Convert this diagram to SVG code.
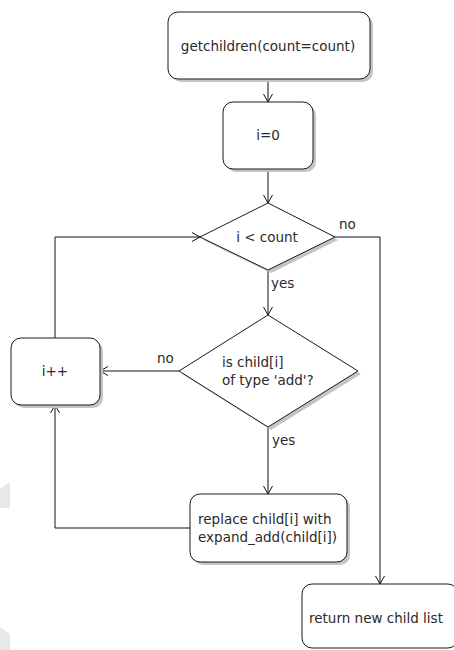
<svg xmlns="http://www.w3.org/2000/svg" width="454" height="650" viewBox="0 0 454 650">
  <defs>
    <style>
      .box { fill: #ffffff; stroke: #1a1a1a; stroke-width: 1; }
      .shadow { fill: #c4c4c4; stroke: none; }
      .txt { font-family: "DejaVu Sans", "Liberation Sans", sans-serif; font-size: 13.5px; fill: #2a2a2a; }
      .mid { text-anchor: middle; }
      .edge { fill: none; stroke: #111111; stroke-width: 1; }
      .mark { fill: #e8e8e8; stroke: none; }
    </style>
    <marker id="arrow" markerUnits="userSpaceOnUse" markerWidth="12" markerHeight="12" refX="9" refY="5" orient="auto">
      <path d="M1,0.5 L9,5 L1,9.5" fill="none" stroke="#111111" stroke-width="1"/>
    </marker>
  </defs>

  <rect width="454" height="650" fill="#ffffff"/>

  <!-- faint marks at the left margin -->
  <polygon class="mark" points="0,489 10,482 10,508 0,508"/>
  <polygon class="mark" points="0,627 10,634 10,650 0,650"/>

  <!-- connectors -->
  <g id="connectors">
    <line class="edge" x1="268" y1="79" x2="268" y2="102" marker-end="url(#arrow)"/>
    <line class="edge" x1="268" y1="169" x2="268" y2="203" marker-end="url(#arrow)"/>
    <line class="edge" x1="268" y1="270" x2="268" y2="315" marker-end="url(#arrow)"/>
    <line class="edge" x1="268" y1="427" x2="268" y2="494" marker-end="url(#arrow)"/>
    <polyline class="edge" points="335,237 380,237 380,584" marker-end="url(#arrow)"/>
    <line class="edge" x1="179" y1="371" x2="100" y2="371" marker-end="url(#arrow)"/>
    <polyline class="edge" points="190,528 55,528 55,405" marker-end="url(#arrow)"/>
    <polyline class="edge" points="55,338 55,237 200,237" marker-end="url(#arrow)"/>
    <text class="txt" x="339" y="229">no</text>
    <text class="txt" x="271" y="288">yes</text>
    <text class="txt" x="157" y="363">no</text>
    <text class="txt" x="272" y="445">yes</text>
  </g>

  <!-- start -->
  <g id="start">
    <rect class="shadow" x="171" y="15" width="202" height="67" rx="10"/>
    <rect class="box" x="168" y="12" width="202" height="67" rx="10"/>
    <text class="txt mid" x="268" y="51">getchildren(count=count)</text>
  </g>

  <!-- counter init -->
  <g id="init">
    <rect class="shadow" x="226" y="105" width="90" height="67" rx="10"/>
    <rect class="box" x="223" y="102" width="90" height="67" rx="10"/>
    <text class="txt mid" x="268" y="140">i=0</text>
  </g>

  <!-- loop test -->
  <g id="loop-test">
    <polygon class="shadow" points="271,206 338,240 271,273 203,240"/>
    <polygon class="box" points="268,203 335,237 268,270 200,237"/>
    <text class="txt mid" x="267" y="242">i &lt; count</text>
  </g>

  <!-- type test -->
  <g id="type-test">
    <polygon class="shadow" points="271,318 361,374 271,430 182,374"/>
    <polygon class="box" points="268,315 358,371 268,427 179,371"/>
    <text class="txt" x="222" y="367">is child[i]</text>
    <text class="txt" x="222" y="385">of type 'add'?</text>
  </g>

  <!-- increment -->
  <g id="increment">
    <rect class="shadow" x="14" y="341" width="89" height="67" rx="10"/>
    <rect class="box" x="11" y="338" width="89" height="67" rx="10"/>
    <text class="txt mid" x="55" y="376">i++</text>
  </g>

  <!-- expand -->
  <g id="expand">
    <rect class="shadow" x="193" y="497" width="157" height="68" rx="10"/>
    <rect class="box" x="190" y="494" width="157" height="68" rx="10"/>
    <text class="txt" x="198" y="524">replace child[i] with</text>
    <text class="txt" x="198" y="542">expand_add(child[i])</text>
  </g>

  <!-- result -->
  <g id="result">
    <rect class="box" x="302" y="584" width="156" height="64" rx="10"/>
    <text class="txt" x="309" y="623">return new child list</text>
  </g>
</svg>
